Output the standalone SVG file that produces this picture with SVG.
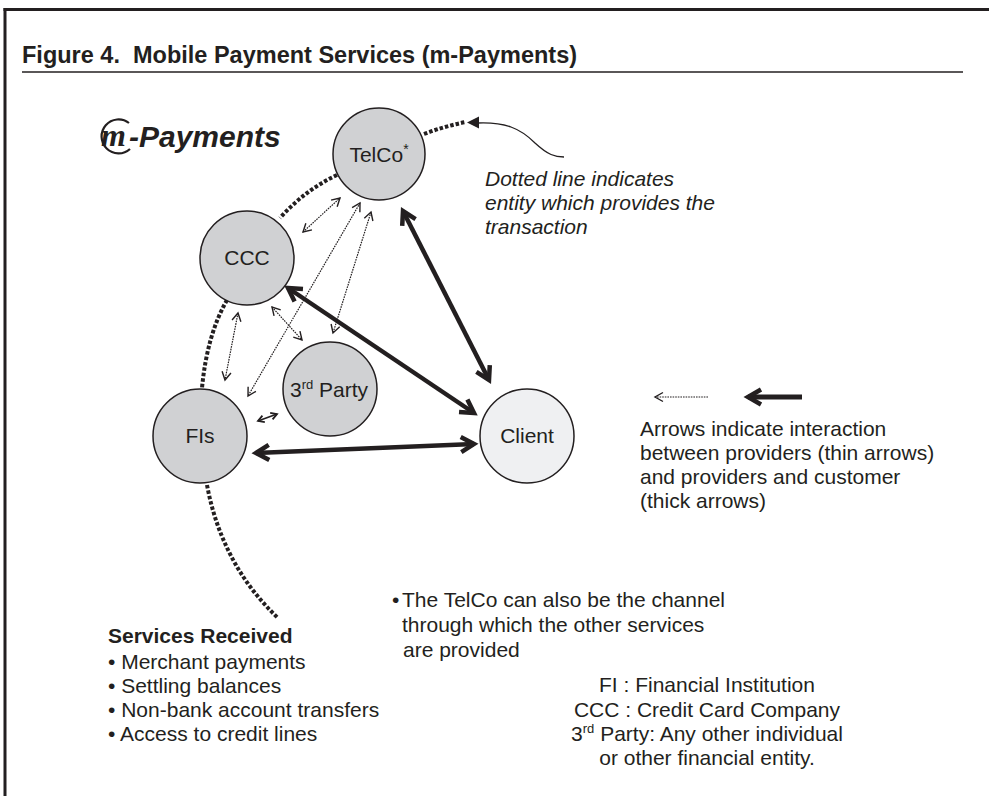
<svg xmlns="http://www.w3.org/2000/svg" width="989" height="796" viewBox="0 0 989 796">
<defs>
<style>
text{font-family:"Liberation Sans",Arial,sans-serif;fill:#231f20;}
.lbl{font-size:21px;text-anchor:middle;}
.body{font-size:21px;}
.it{font-size:21px;font-style:italic;}
.node{fill:#d0d1d3;stroke:#231f20;stroke-width:1.5;}
.client{fill:#eff0f2;stroke:#231f20;stroke-width:1.5;}
.thin{fill:none;stroke:#231f20;stroke-width:1.2;stroke-dasharray:1.6 1;marker-start:url(#thinHead);marker-end:url(#thinHead);}
.thick{fill:none;stroke:#231f20;stroke-width:4.5;marker-start:url(#thickHead);marker-end:url(#thickHead);}
.dots{fill:none;stroke:#231f20;stroke-width:4;stroke-dasharray:3.5 2;}
</style>
<marker id="thinHead" markerUnits="userSpaceOnUse" markerWidth="14" markerHeight="14" refX="11" refY="7" orient="auto-start-reverse">
<path d="M3,2.5 L11,7 L3,11.5" fill="none" stroke="#231f20" stroke-width="1.4"/>
</marker>
<marker id="thickHead" markerUnits="userSpaceOnUse" markerWidth="24" markerHeight="24" refX="18" refY="12" orient="auto-start-reverse">
<path d="M5,4.5 L18,12 L5,19.5" fill="none" stroke="#231f20" stroke-width="4.5" stroke-linejoin="miter"/>
</marker>
<marker id="smallHead" markerUnits="userSpaceOnUse" markerWidth="10" markerHeight="10" refX="8" refY="5" orient="auto-start-reverse">
<path d="M2,1.5 L8,5 L2,8.5" fill="none" stroke="#231f20" stroke-width="1.8"/>
</marker>
</defs>

<!-- frame -->
<g id="frame">
<line x1="3.5" y1="9.5" x2="989" y2="9.5" stroke="#231f20" stroke-width="3"/>
<line x1="5" y1="8" x2="5" y2="796" stroke="#231f20" stroke-width="3"/>
<line x1="22" y1="72" x2="963" y2="72" stroke="#231f20" stroke-width="1.6"/>
<text x="22" y="63" style="font-size:23.5px;font-weight:bold;" xml:space="preserve">Figure 4.  Mobile Payment Services (m-Payments)</text>
</g>

<!-- logo -->
<g id="logo">
<path d="M129,123 A17,17 0 1 0 130,149" fill="none" stroke="#231f20" stroke-width="2.2"/>
<text x="101" y="146" style="font-family:'Liberation Serif',serif;font-style:italic;font-weight:bold;font-size:32px;">m</text>
<text x="129" y="147" style="font-size:30px;font-weight:bold;font-style:italic;">-Payments</text>
</g>

<!-- connectors -->
<g id="connectors">
<!-- dotted provider arcs -->
<path class="dots" d="M424,134 Q445,126 466,122"/>
<path d="M467,122.5 L479,116.5 L479,128.5 Z" fill="#231f20"/>
<path d="M478,123 C505,122 520,128 535,143 C548,155 555,157 564,157" fill="none" stroke="#231f20" stroke-width="1.3"/>
<path class="dots" d="M337,175 Q305,190 280,218"/>
<path class="dots" d="M227,300 Q207,335 202,388"/>
<path class="dots" d="M207,485 Q222,565 278,618"/>
<!-- thin arrows -->
<line class="thin" x1="303" y1="232" x2="340" y2="198"/>
<line class="thin" x1="360" y1="203" x2="248" y2="396"/>
<line class="thin" x1="371" y1="212" x2="333" y2="333"/>
<line class="thin" x1="238" y1="313" x2="225" y2="380"/>
<line class="thin" x1="272" y1="307" x2="302" y2="340"/>
<line x1="258" y1="421" x2="277" y2="414" stroke="#231f20" stroke-width="1.6" marker-start="url(#smallHead)" marker-end="url(#smallHead)"/>
<!-- thick arrows -->
<line class="thick" x1="403" y1="211" x2="489" y2="380"/>
<line class="thick" x1="288" y1="288" x2="474" y2="413"/>
<line class="thick" x1="256" y1="453" x2="474" y2="444"/>
<!-- legend arrows -->
<line x1="708" y1="397" x2="655" y2="397" stroke="#231f20" stroke-width="1.2" stroke-dasharray="1.6 1" marker-end="url(#thinHead)"/>
<line x1="802" y1="397" x2="748" y2="397" stroke="#231f20" stroke-width="5" marker-end="url(#thickHead)"/>
</g>

<!-- nodes -->
<g id="node-telco">
<circle class="node" cx="379" cy="154" r="46"/>
<text class="lbl" x="379" y="162">TelCo<tspan font-size="14" dy="-8">*</tspan></text>
</g>
<g id="node-ccc">
<circle class="node" cx="247" cy="258" r="47"/>
<text class="lbl" x="247" y="265">CCC</text>
</g>
<g id="node-3rdparty">
<circle class="node" cx="330" cy="389" r="47"/>
<text class="lbl" x="329" y="397">3<tspan font-size="13" dy="-8">rd</tspan><tspan dy="8"> Party</tspan></text>
</g>
<g id="node-fis">
<circle class="node" cx="200" cy="436" r="47"/>
<text class="lbl" x="200" y="443">FIs</text>
</g>
<g id="node-client">
<circle class="client" cx="527" cy="436" r="47"/>
<text class="lbl" x="527" y="443">Client</text>
</g>

<!-- annotations -->
<g id="notes">
<text class="it" x="485" y="186">Dotted line indicates</text>
<text class="it" x="485" y="210">entity which provides the</text>
<text class="it" x="485" y="234">transaction</text>

<text class="body" x="640" y="436">Arrows indicate interaction</text>
<text class="body" x="640" y="460">between providers (thin arrows)</text>
<text class="body" x="640" y="484">and providers and customer</text>
<text class="body" x="640" y="508">(thick arrows)</text>

<text class="body" x="392" y="607">•</text>
<text class="body" x="402" y="607">The TelCo can also be the channel</text>
<text class="body" x="402" y="632">through which the other services</text>
<text class="body" x="403" y="657">are provided</text>

<text x="108" y="643" style="font-size:21px;font-weight:bold;">Services Received</text>
<text class="body" x="108" y="669">• Merchant payments</text>
<text class="body" x="108" y="693">• Settling balances</text>
<text class="body" x="108" y="717">• Non-bank account transfers</text>
<text class="body" x="108" y="741">• Access to credit lines</text>

<text class="lbl" x="707" y="692">FI : Financial Institution</text>
<text class="lbl" x="707" y="717">CCC : Credit Card Company</text>
<text class="lbl" x="707" y="741">3<tspan font-size="13" dy="-8">rd</tspan><tspan dy="8"> Party: Any other individual</tspan></text>
<text class="lbl" x="707" y="765">or other financial entity.</text>
</g>
</svg>
